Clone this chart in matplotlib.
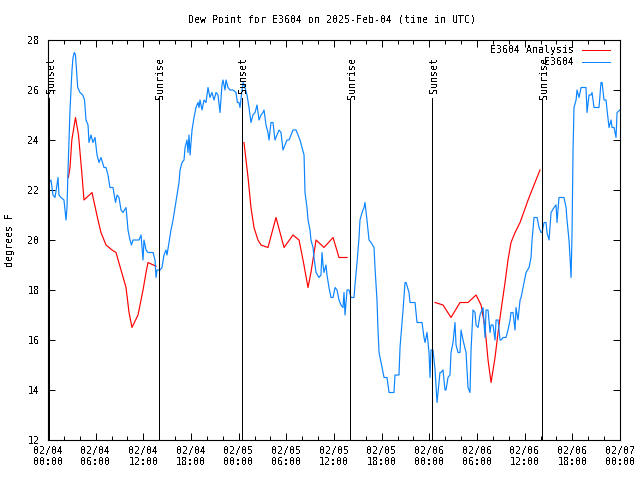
import numpy as np
import matplotlib
matplotlib.use("Agg")
import matplotlib.pyplot as plt
from matplotlib.lines import Line2D

# hours since 2025-02-04 00:00 UTC
obs_hours = [
    0.00, 0.13, 0.38, 0.63, 0.88, 1.13, 1.26, 1.38, 1.64, 2.01, 2.27, 2.39, 2.52, 2.77, 3.02, 3.15,
    3.31, 3.46, 3.74, 4.03, 4.37, 4.60, 4.78, 5.04, 5.16, 5.41, 5.66, 5.92, 6.17, 6.42, 6.67, 7.05,
    7.30, 7.55, 7.80, 8.18, 8.50, 8.69, 8.94, 9.19, 9.44, 9.82, 9.94, 10.07, 10.32, 10.51, 10.70,
    11.08, 11.46, 11.71, 11.83, 11.96, 12.08, 12.34, 12.59, 12.84, 13.22, 13.47, 13.60, 13.72, 14.10,
    14.35, 14.60, 14.85, 14.98, 15.23, 15.48, 15.74, 15.99, 16.24, 16.49, 16.62, 16.87, 17.12, 17.25,
    17.50, 17.62, 17.75, 17.88, 18.13, 18.38, 18.63, 18.88, 19.01, 19.13, 19.39, 19.64, 19.89, 20.14,
    20.39, 20.64, 20.90, 21.15, 21.40, 21.65, 21.90, 22.03, 22.28, 22.41, 22.66, 22.91, 23.29, 23.66,
    23.85, 24.04, 24.17, 24.35, 24.55, 24.80, 25.05, 25.30, 25.55, 25.80, 26.06, 26.31, 26.56, 26.81,
    27.06, 27.19, 27.44, 27.69, 27.82, 28.07, 28.32, 28.57, 28.83, 29.08, 29.33, 29.58, 29.83, 30.08,
    30.34, 30.59, 30.84, 31.22, 31.47, 31.72, 31.97, 32.23, 32.35, 32.60, 32.73, 32.98, 33.10, 33.36,
    33.48, 33.74, 34.11, 34.36, 34.49, 34.62, 34.74, 34.99, 35.12, 35.37, 35.62, 35.88, 36.13, 36.38,
    36.63, 36.88, 37.13, 37.26, 37.39, 37.64, 37.89, 38.14, 38.52, 38.64, 38.90, 39.15, 39.27, 39.53,
    39.78, 39.90, 40.15, 40.41, 40.66, 41.04, 41.16, 41.41, 41.54, 41.67, 41.92, 42.30, 42.67, 42.93,
    43.55, 43.68, 44.18, 44.31, 44.69, 44.94, 45.07, 45.44, 45.57, 46.20, 46.45, 47.08, 47.33, 47.46,
    47.71, 47.96, 48.09, 48.21, 48.46, 48.72, 48.97, 49.34, 49.47, 49.72, 49.97, 50.10, 50.35, 50.60,
    50.73, 50.98, 51.23, 51.36, 51.61, 51.86, 51.99, 52.24, 52.62, 52.87, 53.12, 53.25, 53.50, 53.75,
    53.88, 54.13, 54.38, 54.51, 54.76, 55.01, 55.14, 55.39, 55.64, 55.77, 56.02, 56.27, 56.40, 56.65,
    56.90, 57.03, 57.28, 57.65, 57.90, 58.16, 58.28, 58.53, 58.79, 58.91, 59.16, 59.42, 59.55, 59.80,
    60.05, 60.17, 60.55, 60.80, 60.93, 61.18, 61.56, 61.81, 62.06, 62.19, 62.44, 62.69, 62.81, 63.07,
    63.32, 63.70, 63.95, 64.07, 64.32, 64.95, 65.21, 65.33, 65.58, 65.71, 65.84, 65.96, 66.09, 66.21,
    66.47, 66.59, 66.84, 67.10, 67.72, 67.85, 68.10, 68.35, 68.48, 68.73, 69.36, 69.61, 69.74, 69.99,
    70.24, 70.37, 70.62, 70.87, 71.00, 71.25, 71.50, 71.63, 72.00,
]
obs_dewpt = [
    23.0, 22.3, 22.4, 21.8, 21.7, 22.2, 22.5, 21.8, 21.7, 21.6, 20.8, 21.3, 22.8, 25.2, 26.8, 27.3,
    27.5, 27.4, 26.1, 25.9, 25.8, 25.6, 24.8, 24.6, 23.9, 24.2, 23.9, 24.1, 23.4, 23.1, 23.3, 22.9,
    22.9, 22.6, 22.1, 22.1, 21.5, 21.8, 21.7, 21.2, 21.1, 21.3, 20.9, 20.4, 20.0, 19.8, 20.0,
    20.0, 20.0, 20.2, 19.7, 19.2, 20.0, 19.6, 19.5, 19.5, 19.5, 19.2, 18.5, 18.8, 18.8,
    18.9, 19.4, 19.6, 19.4, 19.9, 20.4, 20.8, 21.3, 21.8, 22.3, 22.8, 23.1, 23.2, 23.7,
    24.0, 23.5, 24.2, 23.4, 24.4, 24.9, 25.3, 25.5, 25.3, 25.6, 25.2, 25.6, 25.5, 26.1,
    25.7, 25.9, 25.6, 25.9, 25.8, 25.1, 26.2, 26.4, 26.0, 26.4, 26.1, 26.0, 26.0, 25.9,
    25.5, 25.5, 25.3, 25.8, 26.3, 26.1, 25.8, 25.3, 24.7, 25.0, 25.1, 25.4, 24.8, 25.0,
    25.1, 25.2, 24.6, 24.3, 24.0, 24.7, 24.7, 24.0, 24.2, 24.4, 24.3, 23.6, 23.8, 24.0,
    24.0, 24.2, 24.4, 24.4, 24.2, 24.0, 23.7, 23.4, 21.9, 21.3, 20.8, 20.4, 20.0, 19.7,
    19.3, 18.7, 18.5, 18.6, 19.5, 19.0, 18.7, 19.0, 18.6, 18.1, 17.7, 17.7, 18.1, 18.0,
    17.6, 17.4, 17.3, 17.9, 17.0, 18.0, 18.0, 17.7, 17.7, 18.2, 19.1, 20.1, 20.8, 21.1,
    21.3, 21.5, 20.8, 20.0, 19.9, 19.7, 18.9, 17.6, 16.4, 15.5, 15.1, 14.5, 14.5, 13.9,
    13.9, 14.6, 14.6, 15.7, 17.2, 18.3, 18.3, 17.9, 17.5, 17.5, 16.7, 16.7, 16.1, 15.9,
    16.3, 15.5, 14.5, 15.6, 15.6, 14.8, 13.5, 14.7, 14.7, 14.8, 14.0, 14.0, 14.5, 14.6,
    15.5, 15.9, 16.7, 15.8, 15.5, 15.5, 16.4, 16.0, 15.5, 14.1, 13.9, 15.6, 17.2, 17.1,
    16.6, 16.5, 17.0, 17.1, 17.3, 16.1, 17.2, 17.2, 16.3, 16.6, 16.6, 16.0, 16.8, 16.8,
    16.0, 16.0, 16.1, 16.1, 16.4, 16.8, 17.1, 17.1, 16.4, 17.3, 16.8, 17.6, 17.7, 18.1,
    18.5, 18.7, 18.9, 19.3, 20.0, 20.9, 20.9, 20.5, 20.3, 20.3, 20.7, 20.7, 20.3, 20.0,
    21.1, 21.3, 21.4, 20.7, 21.7, 21.7, 21.3, 20.8, 20.0, 19.3, 18.5, 20.2, 23.6, 25.3,
    25.6, 26.0, 25.7, 26.1, 26.1, 25.1, 25.8, 25.8, 25.9, 25.3, 25.3, 26.3, 26.3, 25.6,
    25.6, 25.2, 24.5, 24.8, 24.5, 24.5, 24.1, 25.1, 25.2,
]

# analysis, nan = no value
ana_hours = [
    2.56, 2.77, 3.00, 3.46, 3.84, 4.28, 4.53, 5.54, 6.29, 6.67, 7.30, 8.06, 8.56, 9.19, 9.82, 10.20,
    10.57, 11.33, 11.96, 12.34, 12.59, 13.60, 19.0,
    24.67, 25.18, 25.55, 25.93, 26.43, 26.81, 27.69, 28.70, 29.71, 30.84, 31.60, 32.10, 32.73, 33.10,
    33.74, 34.74, 35.88, 36.63, 37.64, 43.0,
    48.72, 49.72, 50.73, 51.86, 52.87, 53.88, 54.51, 55.01, 55.39, 55.77, 56.27, 56.65, 57.03, 57.53,
    57.90, 58.28, 58.79, 59.42, 60.43, 60.80, 61.93,
]
ana_dewpt = [
    22.5, 22.9, 24.0, 24.9, 24.2, 22.6, 21.6, 21.9, 20.8, 20.3, 19.8, 19.6, 19.5, 18.8, 18.1, 17.1,
    16.5, 17.0, 18.0, 18.7, 19.1, 18.95, np.nan,
    23.9, 22.5, 21.3, 20.5, 20.0, 19.8, 19.7, 20.9, 19.7, 20.2, 20.0, 19.2, 18.1, 18.7,
    20.0, 19.7, 20.1, 19.3, 19.3, np.nan,
    17.5, 17.4, 16.9, 17.5, 17.5, 17.8, 17.4, 16.5, 15.2, 14.3, 15.3, 16.3, 17.2, 18.3,
    19.2, 19.9, 20.3, 20.7, 21.6, 21.9, 22.8,
]

sun_hours = [0.17, 13.97, 24.38, 38.05, 48.38, 62.22]
sun_names = ["Sunset", "Sunrise", "Sunset", "Sunrise", "Sunset", "Sunrise"]

tick_hours = list(range(0, 73, 6))
tick_labels = ["02/04\n00:00", "02/04\n06:00", "02/04\n12:00", "02/04\n18:00",
               "02/05\n00:00", "02/05\n06:00", "02/05\n12:00", "02/05\n18:00",
               "02/06\n00:00", "02/06\n06:00", "02/06\n12:00", "02/06\n18:00",
               "02/07\n00:00"]

FONT = "DejaVu Sans Mono"
FS = 7.2
LW = 0.72  # one pixel
RED = "#ff0000"
BLUE = "#0a84ff"
plt.rcParams["text.antialiased"] = False

fig = plt.figure(figsize=(6.4, 4.8), dpi=100)
ax = fig.add_axes([48 / 640, 40 / 480, 572 / 640, 400 / 480])

ax.plot(ana_hours, ana_dewpt, color=RED, lw=0.85)
ax.plot(obs_hours, obs_dewpt, color=BLUE, lw=0.85)

for h, name in zip(sun_hours, sun_names):
    ax.plot([h, h], [12, 25.68], color="black", lw=LW, antialiased=False)
    ax.text(h + 0.2, 27.32, name, rotation=90, ha="center", va="top",
            family=FONT, fontsize=FS)

ax.set_xlim(0, 72)
ax.set_ylim(12, 28)
ax.set_xticks(tick_hours)
ax.set_xticklabels(tick_labels, family=FONT, fontsize=FS)
ax.set_xticks(range(0, 73, 2), minor=True)
ax.set_yticks(range(12, 29, 2))
ax.set_yticklabels([str(v) for v in range(12, 29, 2)], family=FONT, fontsize=FS)
ax.tick_params(which="major", direction="in", length=5, width=LW,
               top=True, right=True, pad=4)
ax.tick_params(which="minor", direction="in", length=3, width=LW,
               top=True, right=False, left=False)
ax.tick_params(axis="y", pad=6)
for s in ax.spines.values():
    s.set_linewidth(0.8)

# key, gnuplot style (right-justified text)
key = [("E3604 Analysis", RED, 0.976), ("E3604", BLUE, 0.944)]
for label, col, ky in key:
    ax.text(0.9196, ky, label, transform=ax.transAxes, ha="right", va="center",
            family=FONT, fontsize=FS)
    ax.add_line(Line2D([0.933, 0.9825], [ky, ky], transform=ax.transAxes,
                       color=col, lw=LW, antialiased=False))

fig.text(332 / 640, 1 - 20 / 480, "Dew Point for E3604 on 2025-Feb-04 (time in UTC)",
         ha="center", va="center", family=FONT, fontsize=FS)
fig.text(10 / 640, 0.5, "degrees F", rotation=90, ha="center", va="center",
         family=FONT, fontsize=FS)

fig.savefig("out.png", dpi=100)
